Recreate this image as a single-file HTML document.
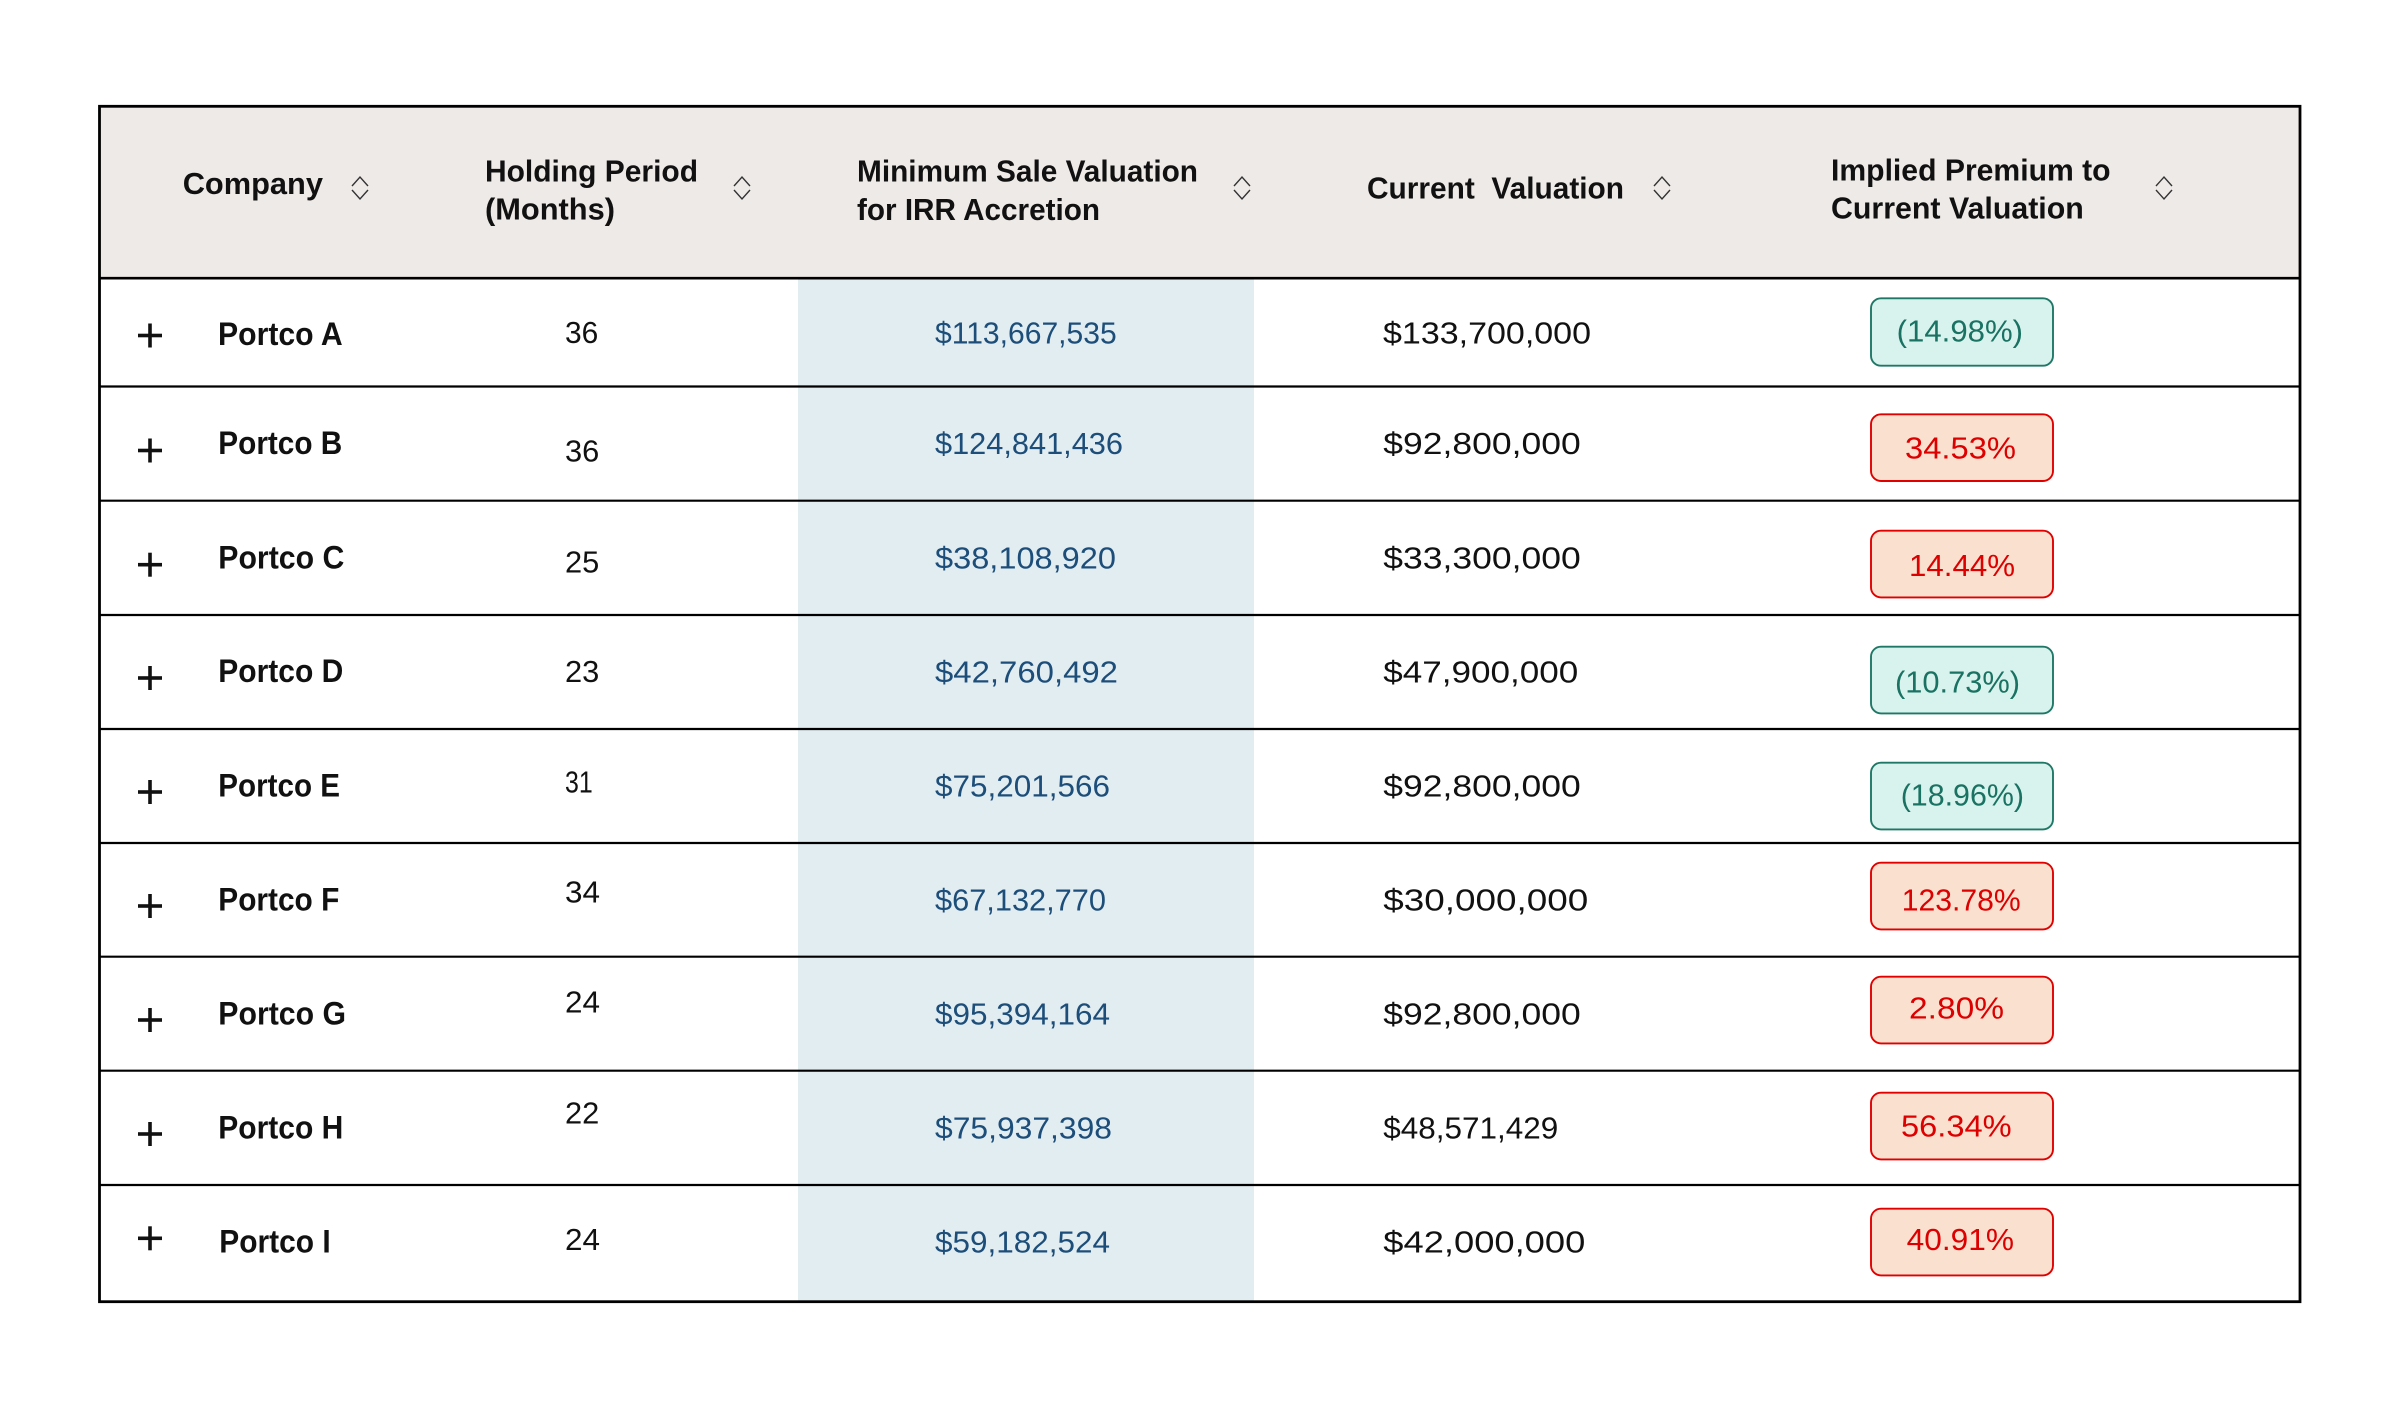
<!DOCTYPE html>
<html>
<head>
<meta charset="utf-8">
<style>
  html, body { margin: 0; padding: 0; background: #ffffff; }
  body { width: 2400px; height: 1406px; overflow: hidden; }
  svg { display: block; }
  .hd { font-family: "Liberation Sans", sans-serif; font-weight: bold; font-size: 31px; fill: #111111; }
  .nm { font-family: "Liberation Sans", sans-serif; font-weight: bold; font-size: 32px; fill: #111111; }
  .num { font-family: "Liberation Sans", sans-serif; font-size: 30.5px; fill: #111111; }
  .blue { font-family: "Liberation Sans", sans-serif; font-size: 30.5px; fill: #1d4e79; }
  .red { font-family: "Liberation Sans", sans-serif; font-size: 30.5px; fill: #dd0000; }
  .teal { font-family: "Liberation Sans", sans-serif; font-size: 30.5px; fill: #1a7262; }
</style>
</head>
<body>
<svg width="2400" height="1406" viewBox="0 0 2400 1406" xmlns="http://www.w3.org/2000/svg">
  <rect x="0" y="0" width="2400" height="1406" fill="#ffffff"/>

  <!-- header background -->
  <rect x="100" y="107" width="2200" height="171" fill="#eeeae7"/>
  <!-- blue band -->
  <rect x="798" y="279" width="456" height="1022" fill="#e2edf2"/>

  <!-- row lines -->
  <g stroke="#000" stroke-width="2.2">
    <line x1="100" y1="386.5" x2="2300" y2="386.5"/>
    <line x1="100" y1="500.7" x2="2300" y2="500.7"/>
    <line x1="100" y1="615" x2="2300" y2="615"/>
    <line x1="100" y1="729" x2="2300" y2="729"/>
    <line x1="100" y1="843" x2="2300" y2="843"/>
    <line x1="100" y1="956.7" x2="2300" y2="956.7"/>
    <line x1="100" y1="1070.7" x2="2300" y2="1070.7"/>
    <line x1="100" y1="1185" x2="2300" y2="1185"/>
  </g>
  <line x1="100" y1="278.2" x2="2300" y2="278.2" stroke="#000" stroke-width="2.6"/>

  <!-- outer border -->
  <rect x="99.5" y="106.3" width="2200.5" height="1195.4" fill="none" stroke="#000" stroke-width="2.8"/>

  <!-- headers -->
  <text class="hd" x="182.7" y="194" textLength="140.3" lengthAdjust="spacingAndGlyphs">Company</text>
  <text class="hd" x="485" y="181.7" textLength="213" lengthAdjust="spacingAndGlyphs">Holding Period</text>
  <text class="hd" x="485" y="219.3" textLength="130" lengthAdjust="spacingAndGlyphs">(Months)</text>
  <text class="hd" x="857" y="181.7" textLength="341" lengthAdjust="spacingAndGlyphs">Minimum Sale Valuation</text>
  <text class="hd" x="857" y="220" textLength="243" lengthAdjust="spacingAndGlyphs">for IRR Accretion</text>
  <text class="hd" x="1367" y="198.3" textLength="257" lengthAdjust="spacingAndGlyphs" xml:space="preserve">Current  Valuation</text>
  <text class="hd" x="1831" y="180.7" textLength="279.6" lengthAdjust="spacingAndGlyphs">Implied Premium to</text>
  <text class="hd" x="1831" y="218.3" textLength="252.8" lengthAdjust="spacingAndGlyphs">Current Valuation</text>

  <!-- sort icons -->
  <g fill="none" stroke="#333" stroke-width="1.4" stroke-linejoin="miter">
    <polyline points="352,186 360,177 368,186"/><polyline points="352,190 360,199 368,190"/>
    <polyline points="734,186 742,177 750,186"/><polyline points="734,190 742,199 750,190"/>
    <polyline points="1234,186 1242,177 1250,186"/><polyline points="1234,190 1242,199 1250,190"/>
    <polyline points="1654,186 1662,177 1670,186"/><polyline points="1654,190 1662,199 1670,190"/>
    <polyline points="2156,186 2164,177 2172,186"/><polyline points="2156,190 2164,199 2172,190"/>
  </g>

  <!-- plus signs -->
  <g fill="#111">
    <rect x="138" y="333.7" width="24" height="3.6"/><rect x="148.2" y="323.5" width="3.6" height="24"/>
    <rect x="138" y="448.7" width="24" height="3.6"/><rect x="148.2" y="438.5" width="3.6" height="24"/>
    <rect x="138" y="562.9" width="24" height="3.6"/><rect x="148.2" y="552.7" width="3.6" height="24"/>
    <rect x="138" y="676.2" width="24" height="3.6"/><rect x="148.2" y="666" width="3.6" height="24"/>
    <rect x="138" y="790.2" width="24" height="3.6"/><rect x="148.2" y="780" width="3.6" height="24"/>
    <rect x="138" y="904.2" width="24" height="3.6"/><rect x="148.2" y="894" width="3.6" height="24"/>
    <rect x="138" y="1018.2" width="24" height="3.6"/><rect x="148.2" y="1008" width="3.6" height="24"/>
    <rect x="138" y="1132.2" width="24" height="3.6"/><rect x="148.2" y="1122" width="3.6" height="24"/>
    <rect x="138" y="1236.5" width="24" height="3.6"/><rect x="148.2" y="1226.3" width="3.6" height="24"/>
  </g>

  <!-- company names -->
  <text class="nm" x="218" y="345" textLength="124.7" lengthAdjust="spacingAndGlyphs">Portco A</text>
  <text class="nm" x="218.3" y="454" textLength="124" lengthAdjust="spacingAndGlyphs">Portco B</text>
  <text class="nm" x="218.3" y="568.3" textLength="126" lengthAdjust="spacingAndGlyphs">Portco C</text>
  <text class="nm" x="218.3" y="682" textLength="125" lengthAdjust="spacingAndGlyphs">Portco D</text>
  <text class="nm" x="218.3" y="796.7" textLength="121.7" lengthAdjust="spacingAndGlyphs">Portco E</text>
  <text class="nm" x="218.3" y="910.7" textLength="121" lengthAdjust="spacingAndGlyphs">Portco F</text>
  <text class="nm" x="218.3" y="1024.3" textLength="127.7" lengthAdjust="spacingAndGlyphs">Portco G</text>
  <text class="nm" x="218.3" y="1138.3" textLength="125" lengthAdjust="spacingAndGlyphs">Portco H</text>
  <text class="nm" x="219.3" y="1252.7" textLength="111.4" lengthAdjust="spacingAndGlyphs">Portco I</text>

  <!-- holding period -->
  <text class="num" x="565" y="343" textLength="33.3" lengthAdjust="spacingAndGlyphs">36</text>
  <text class="num" x="565" y="461.7" textLength="34.3" lengthAdjust="spacingAndGlyphs">36</text>
  <text class="num" x="565" y="572.3" textLength="34.3" lengthAdjust="spacingAndGlyphs">25</text>
  <text class="num" x="565" y="682" textLength="34.3" lengthAdjust="spacingAndGlyphs">23</text>
  <text class="num" x="565" y="792.3" textLength="27.7" lengthAdjust="spacingAndGlyphs">31</text>
  <text class="num" x="565" y="902.3" textLength="35" lengthAdjust="spacingAndGlyphs">34</text>
  <text class="num" x="565" y="1012.7" textLength="35" lengthAdjust="spacingAndGlyphs">24</text>
  <text class="num" x="565" y="1123.3" textLength="34.3" lengthAdjust="spacingAndGlyphs">22</text>
  <text class="num" x="565" y="1250" textLength="35" lengthAdjust="spacingAndGlyphs">24</text>

  <!-- minimum sale valuation -->
  <text class="blue" x="935" y="343.5" textLength="181.7" lengthAdjust="spacingAndGlyphs">$113,667,535</text>
  <text class="blue" x="935" y="454" textLength="188" lengthAdjust="spacingAndGlyphs">$124,841,436</text>
  <text class="blue" x="935" y="568.3" textLength="181" lengthAdjust="spacingAndGlyphs">$38,108,920</text>
  <text class="blue" x="935" y="682.3" textLength="183" lengthAdjust="spacingAndGlyphs">$42,760,492</text>
  <text class="blue" x="935" y="796.7" textLength="175" lengthAdjust="spacingAndGlyphs">$75,201,566</text>
  <text class="blue" x="935" y="910.7" textLength="171" lengthAdjust="spacingAndGlyphs">$67,132,770</text>
  <text class="blue" x="935" y="1024.3" textLength="175" lengthAdjust="spacingAndGlyphs">$95,394,164</text>
  <text class="blue" x="935" y="1138.3" textLength="177" lengthAdjust="spacingAndGlyphs">$75,937,398</text>
  <text class="blue" x="935" y="1252.7" textLength="175" lengthAdjust="spacingAndGlyphs">$59,182,524</text>

  <!-- current valuation -->
  <text class="num" x="1383" y="343.5" textLength="208" lengthAdjust="spacingAndGlyphs">$133,700,000</text>
  <text class="num" x="1383.3" y="454" textLength="197.4" lengthAdjust="spacingAndGlyphs">$92,800,000</text>
  <text class="num" x="1383.3" y="568.3" textLength="197.4" lengthAdjust="spacingAndGlyphs">$33,300,000</text>
  <text class="num" x="1383.3" y="682.3" textLength="195" lengthAdjust="spacingAndGlyphs">$47,900,000</text>
  <text class="num" x="1383.3" y="796.7" textLength="197.4" lengthAdjust="spacingAndGlyphs">$92,800,000</text>
  <text class="num" x="1383.3" y="910.7" textLength="205" lengthAdjust="spacingAndGlyphs">$30,000,000</text>
  <text class="num" x="1383.3" y="1024.3" textLength="197.4" lengthAdjust="spacingAndGlyphs">$92,800,000</text>
  <text class="num" x="1383.3" y="1138.3" textLength="175" lengthAdjust="spacingAndGlyphs">$48,571,429</text>
  <text class="num" x="1383.3" y="1252.7" textLength="202" lengthAdjust="spacingAndGlyphs">$42,000,000</text>

  <!-- pills -->
  <g stroke-width="1.9">
    <rect x="1871" y="298.3" width="182" height="67.4" rx="10" ry="10" fill="#d8f3ee" stroke="#1f7866"/>
    <rect x="1871" y="414.3" width="182" height="66.7" rx="10" ry="10" fill="#fae0cf" stroke="#e00000"/>
    <rect x="1871" y="530.7" width="182" height="66.7" rx="10" ry="10" fill="#fae0cf" stroke="#e00000"/>
    <rect x="1871" y="646.7" width="182" height="66.7" rx="10" ry="10" fill="#d8f3ee" stroke="#1f7866"/>
    <rect x="1871" y="762.7" width="182" height="66.7" rx="10" ry="10" fill="#d8f3ee" stroke="#1f7866"/>
    <rect x="1871" y="862.7" width="182" height="66.7" rx="10" ry="10" fill="#fae0cf" stroke="#e00000"/>
    <rect x="1871" y="976.7" width="182" height="66.7" rx="10" ry="10" fill="#fae0cf" stroke="#e00000"/>
    <rect x="1871" y="1092.7" width="182" height="66.7" rx="10" ry="10" fill="#fae0cf" stroke="#e00000"/>
    <rect x="1871" y="1208.7" width="182" height="66.7" rx="10" ry="10" fill="#fae0cf" stroke="#e00000"/>
  </g>

  <text class="teal" x="1896.7" y="341.7" textLength="126.3" lengthAdjust="spacingAndGlyphs">(14.98%)</text>
  <text class="red" x="1905" y="458.3" textLength="111" lengthAdjust="spacingAndGlyphs">34.53%</text>
  <text class="red" x="1909" y="576" textLength="106" lengthAdjust="spacingAndGlyphs">14.44%</text>
  <text class="teal" x="1895" y="692.3" textLength="125" lengthAdjust="spacingAndGlyphs">(10.73%)</text>
  <text class="teal" x="1900.7" y="805.7" textLength="123.3" lengthAdjust="spacingAndGlyphs">(18.96%)</text>
  <text class="red" x="1901.7" y="910.7" textLength="119" lengthAdjust="spacingAndGlyphs">123.78%</text>
  <text class="red" x="1909" y="1018.3" textLength="95" lengthAdjust="spacingAndGlyphs">2.80%</text>
  <text class="red" x="1901" y="1136.7" textLength="110.7" lengthAdjust="spacingAndGlyphs">56.34%</text>
  <text class="red" x="1906.7" y="1250" textLength="107.3" lengthAdjust="spacingAndGlyphs">40.91%</text>
</svg>
</body>
</html>
